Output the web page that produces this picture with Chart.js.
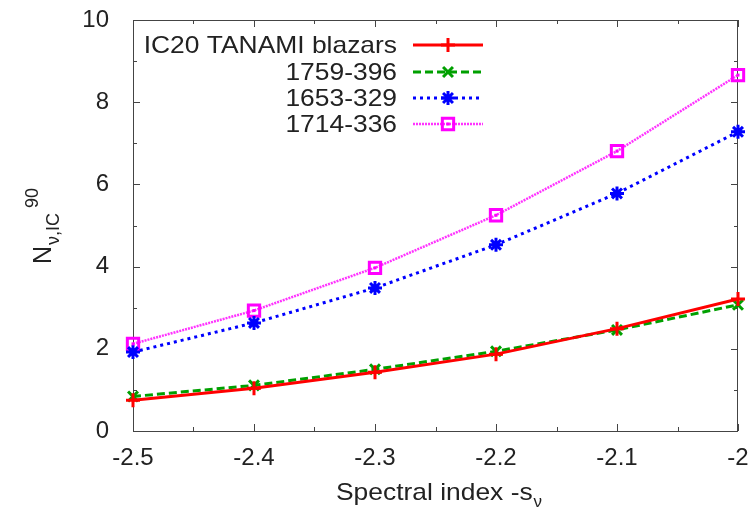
<!DOCTYPE html>
<html>
<head>
<meta charset="utf-8">
<script src="https://cdn.jsdelivr.net/npm/chart.js@4"></script>
<style>
  html, body { margin: 0; padding: 0; background: #fff; }
  #wrap { width: 753px; height: 510px; }
</style>
</head>
<body>
<div id="wrap"><canvas id="nuChart" width="753" height="510"></canvas></div>
<script>
// spectral index values (x)
const xIndex = [-2.5, -2.4, -2.3, -2.2, -2.1, -2.0];
// N_nu,IC^90 for each source
const tanamiAll = [0.75, 1.04, 1.43, 1.87, 2.49, 3.21];
const src1759 = [0.84, 1.11, 1.50, 1.94, 2.46, 3.07];
const src1653 = [1.92, 2.63, 3.48, 4.53, 5.78, 7.28];
const src1714 = [2.12, 2.93, 3.97, 5.25, 6.81, 8.66];
const seriesNames = ["IC20 TANAMI blazars", "1759-396", "1653-329", "1714-336"];

const FONT = "'Liberation Sans', Arial, sans-serif";
const INK = "#222";

function pts(ys) {
  return xIndex.map(function (x, i) { return { x: x, y: ys[i] }; });
}

const styles = [
  { color: "#ff0000", dash: [], width: 3, point: "cross", radius: 7, pw: 3 },
  { color: "#00a000", dash: [8, 4], width: 3, point: "crossRot", radius: 7, pw: 3 },
  { color: "#0000ff", dash: [3, 4], width: 3, point: "star", radius: 7, pw: 3 },
  { color: "#ff33ff", dash: [2, 1], width: 2.5, point: "rect", radius: 8, pw: 3 },
];

const allSeries = [tanamiAll, src1759, src1653, src1714];

const datasets = allSeries.map(function (ys, i) {
  const s = styles[i];
  return {
    label: seriesNames[i],
    data: pts(ys),
    borderColor: s.color,
    backgroundColor: "rgba(0,0,0,0)",
    borderWidth: s.width,
    borderDash: s.dash,
    pointStyle: s.point,
    pointRadius: s.radius,
    pointBorderWidth: s.pw,
    pointBorderColor: i === 3 ? "#ff00ff" : s.color,
    pointBackgroundColor: i === 2 ? s.color : "rgba(0,0,0,0)",
    tension: 0,
    clip: false,
  };
});

// frame with inward, mirrored ticks (gnuplot look)
const framePlugin = {
  id: "frame",
  beforeDatasetsDraw: function (chart) {
    const ctx = chart.ctx;
    const a = chart.chartArea;
    const xs = chart.scales.x, ys = chart.scales.y;
    ctx.save();
    ctx.strokeStyle = "#444";
    ctx.lineWidth = 1;
    ctx.strokeRect(a.left + 0.5, a.top + 0.5, a.right - a.left - 1, a.bottom - a.top);
    ctx.beginPath();
    xs.ticks.forEach(function (t) {
      const px = Math.round(xs.getPixelForValue(t.value)) + 0.5;
      const major = Math.abs(Math.round(t.value * 100)) % 10 === 0;
      const len = major ? 7 : 4;
      ctx.moveTo(px, a.bottom); ctx.lineTo(px, a.bottom - len);
      ctx.moveTo(px, a.top); ctx.lineTo(px, a.top + len);
    });
    ys.ticks.forEach(function (t) {
      const py = Math.round(ys.getPixelForValue(t.value)) + 0.5;
      const major = Math.round(t.value) % 2 === 0;
      const len = major ? 7 : 4;
      ctx.moveTo(a.left, py); ctx.lineTo(a.left + len, py);
      ctx.moveTo(a.right, py); ctx.lineTo(a.right - len, py);
    });
    ctx.stroke();
    ctx.restore();
  },
  afterDatasetsDraw: function (chart) {
    // small dot inside the magenta boxes
    const ctx = chart.ctx;
    const meta = chart.getDatasetMeta(3);
    ctx.save();
    ctx.fillStyle = "#ff00ff";
    meta.data.forEach(function (p) {
      ctx.fillRect(p.x - 1.5, p.y - 1.5, 3, 3);
    });
    ctx.restore();
  },
};

function drawMarker(ctx, s, x, y) {
  ctx.save();
  ctx.strokeStyle = s.color === "#ff33ff" ? "#ff00ff" : s.color;
  ctx.fillStyle = s.color;
  ctx.lineWidth = s.pw;
  ctx.setLineDash([]);
  const r = s.radius;
  ctx.beginPath();
  if (s.point === "cross") {
    ctx.moveTo(x - r, y); ctx.lineTo(x + r, y);
    ctx.moveTo(x, y - r); ctx.lineTo(x, y + r);
  } else if (s.point === "crossRot") {
    const d = r * Math.SQRT1_2;
    ctx.moveTo(x - d, y - d); ctx.lineTo(x + d, y + d);
    ctx.moveTo(x - d, y + d); ctx.lineTo(x + d, y - d);
  } else if (s.point === "star") {
    const d = r * Math.SQRT1_2;
    ctx.moveTo(x - r, y); ctx.lineTo(x + r, y);
    ctx.moveTo(x, y - r); ctx.lineTo(x, y + r);
    ctx.moveTo(x - d, y - d); ctx.lineTo(x + d, y + d);
    ctx.moveTo(x - d, y + d); ctx.lineTo(x + d, y - d);
  } else {
    const h = r * Math.SQRT1_2;
    ctx.rect(x - h, y - h, 2 * h, 2 * h);
  }
  ctx.stroke();
  if (s.point === "rect") {
    ctx.fillStyle = "#ff00ff";
    ctx.fillRect(x - 1.5, y - 1.5, 3, 3);
  }
  ctx.restore();
}

// legend and axis titles
const textPlugin = {
  id: "texts",
  afterDraw: function (chart) {
    const ctx = chart.ctx;
    const rows = [45, 72, 98, 124];
    ctx.save();
    ctx.fillStyle = INK;
    ctx.font = "24px " + FONT;
    ctx.textBaseline = "middle";
    seriesNames.forEach(function (name, i) {
      const y = rows[i];
      const w = ctx.measureText(name).width * 1.1;
      ctx.save();
      ctx.translate(397 - w, y + 1);
      ctx.scale(1.1, 1);
      ctx.textAlign = "left";
      ctx.fillText(name, 0, 0);
      ctx.restore();
      const s = styles[i];
      ctx.save();
      ctx.strokeStyle = s.color;
      ctx.lineWidth = s.width;
      ctx.setLineDash(s.dash);
      ctx.beginPath();
      ctx.moveTo(413, y); ctx.lineTo(483, y);
      ctx.stroke();
      ctx.restore();
      drawMarker(ctx, s, 448, y);
    });

    // x title: Spectral index -s_nu
    ctx.textBaseline = "alphabetic";
    ctx.textAlign = "left";
    ctx.font = "24px " + FONT;
    const main = "Spectral index -s";
    const mw = ctx.measureText(main).width * 1.1;
    ctx.save();
    ctx.translate(336, 500);
    ctx.scale(1.1, 1);
    ctx.fillText(main, 0, 0);
    ctx.restore();
    ctx.font = "17px " + FONT;
    ctx.fillText("\u03bd", 336 + mw + 1, 507);

    // y title: N_{nu,IC}^{90}
    ctx.save();
    ctx.translate(51, 264);
    ctx.rotate(-Math.PI / 2);
    ctx.font = "25px " + FONT;
    ctx.fillText("N", 0, 0);
    ctx.font = "18px " + FONT;
    ctx.fillText("\u03bd,IC", 19, 8);
    ctx.fillText("90", 56, -13);
    ctx.restore();
    ctx.restore();
  },
};

const ctx = document.getElementById("nuChart").getContext("2d");
new Chart(ctx, {
  type: "line",
  data: { datasets: datasets },
  options: {
    responsive: false,
    animation: false,
    layout: { padding: { left: 0, right: 15, top: 20, bottom: 0 } },
    plugins: { legend: { display: false }, tooltip: { enabled: false } },
    scales: {
      x: {
        type: "linear",
        min: -2.5,
        max: -2,
        grid: { display: false },
        border: { display: false },
        ticks: {
          stepSize: 0.05,
          autoSkip: false,
          maxRotation: 0,
          padding: 5,
          color: INK,
          font: { family: FONT, size: 24 },
          callback: function (v) {
            const k = Math.round(v * 100);
            if (k % 10 !== 0) return "";
            return String(Math.round(v * 10) / 10);
          },
        },
        afterFit: function (scale) {
          scale.height = 79;
          scale.paddingLeft = 0;
          scale.paddingRight = 0;
        },
      },
      y: {
        type: "linear",
        min: 0,
        max: 10,
        grid: { display: false },
        border: { display: false },
        ticks: {
          stepSize: 1,
          autoSkip: false,
          padding: 16,
          color: INK,
          font: { family: FONT, size: 24 },
          callback: function (v) {
            return Math.round(v) % 2 === 0 ? String(v) : "";
          },
        },
        afterFit: function (scale) {
          scale.width = 133;
          scale.paddingTop = 0;
          scale.paddingBottom = 0;
        },
      },
    },
  },
  plugins: [framePlugin, textPlugin],
});
</script>
</body>
</html>
